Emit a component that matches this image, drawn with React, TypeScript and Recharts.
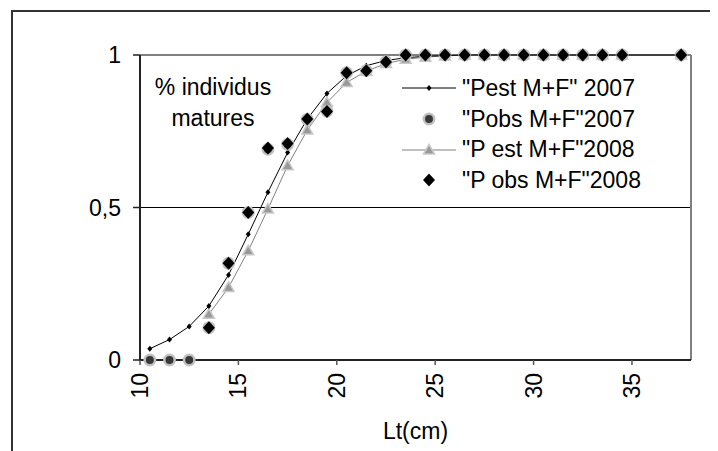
import { LineChart, Line, XAxis, YAxis, CartesianGrid, ReferenceLine } from 'recharts'

const lengths = [
  10.5, 11.5, 12.5, 13.5, 14.5, 15.5, 16.5, 17.5, 18.5, 19.5, 20.5, 21.5, 22.5,
  23.5, 24.5, 25.5, 26.5, 27.5, 28.5, 29.5, 30.5, 31.5, 32.5, 33.5, 34.5, 37.5,
]
const pest2007 = [
  0.037, 0.067, 0.11, 0.177, 0.279, 0.412, 0.55, 0.68, 0.79, 0.874, 0.932, 0.965, 0.982,
  0.991, 0.996, 0.998, 1, 1, 1, 1, 1, 1, 1, 1, 1, 1,
]
const pobs2007 = [
  0, 0, 0, 0.106, 0.317, 0.484, 0.691, 0.707, 0.789, 0.816, 0.942, 0.949, 0.978,
  1, 1, 1, 1, 1, 1, 1, 1, 1, 1, 1, 1, 1,
]
const pest2008 = [
  null, null, null, 0.15, 0.238, 0.358, 0.495, 0.637, 0.754, 0.844, 0.91, 0.947, 0.972,
  0.986, 0.993, 0.997, 1, 1, 1, 1, 1, 1, 1, 1, 1, 1,
]
const pobs2008 = [
  null, null, null, 0.106, 0.317, 0.484, 0.695, 0.71, 0.79, 0.815, 0.942, 0.948, 0.977,
  1, 1, 1, 1, 1, 1, 1, 1, 1, 1, 1, 1, 1,
]
const xTicks = [10, 15, 20, 25, 30, 35]
const yTicks = [0, 0.5, 1]
const legendNames = ['"Pest M+F" 2007', '"Pobs M+F"2007', '"P est M+F"2008', '"P obs M+F"2008']

const data = lengths.map((lt, i) => ({
  lt,
  pest2007: pest2007[i],
  pobs2007: pobs2007[i],
  pest2008: pest2008[i],
  pobs2008: pobs2008[i],
}))

const FONT = '"Liberation Sans", Arial, sans-serif'

const SmallDot = ({ cx, cy }: any) => (
  <path d={`M${cx},${cy - 3}L${cx + 2.5},${cy}L${cx},${cy + 3}L${cx - 2.5},${cy}Z`} fill='#000' />
)
const Circle = ({ cx, cy }: any) => (
  <circle cx={cx} cy={cy} r={5.2} fill='#383838' stroke='#c0c0c0' strokeWidth={2.5} />
)
const Triangle = ({ cx, cy }: any) => (
  <path
    d={`M${cx},${cy - 5.5}L${cx + 5.5},${cy + 4}L${cx - 5.5},${cy + 4}Z`}
    fill='#999'
    stroke='#c8c8c8'
    strokeWidth={1.5}
  />
)
const Diamond = ({ cx, cy }: any) => (
  <path d={`M${cx},${cy - 6.5}L${cx + 6},${cy}L${cx},${cy + 6.5}L${cx - 6},${cy}Z`} fill='#000' />
)

const dotOf = (Shape: any) => (props: any) => {
  if (props.cy == null || props.value == null) return <g key={props.key} />
  return <Shape key={props.key} cx={props.cx} cy={props.cy} />
}

const XTick = ({ x, y, payload }: any) => (
  <text
    transform={`translate(${x},${y + 6}) rotate(-90)`}
    textAnchor='end'
    dominantBaseline='central'
    fontSize={23}
    fontFamily={FONT}
    fill='#000'
  >
    {payload.value}
  </text>
)

const LegendBox = () => {
  const symbols = [
    <g>
      <line x1={0} y1={10} x2={54} y2={10} stroke='#000' strokeWidth={1} />
      <SmallDot cx={27} cy={10} />
    </g>,
    <Circle cx={27} cy={10} />,
    <g>
      <line x1={0} y1={10} x2={54} y2={10} stroke='#808080' strokeWidth={1} />
      <Triangle cx={27} cy={10} />
    </g>,
    <Diamond cx={27} cy={10} />,
  ]
  return (
    <div
      style={{
        position: 'absolute',
        left: 394,
        top: 65,
        fontFamily: FONT,
        fontSize: 23,
        color: '#000',
      }}
    >
      {legendNames.map((name, i) => (
        <div key={name} style={{ display: 'flex', alignItems: 'center', height: 30.7 }}>
          <svg width={60} height={20} style={{ flex: 'none' }}>
            {symbols[i]}
          </svg>
          <span style={{ whiteSpace: 'nowrap' }}>{name}</span>
        </div>
      ))}
    </div>
  )
}

const App = () => {
  return (
    <div style={{ position: 'relative', width: 710, height: 443, overflow: 'hidden', background: '#fff' }}>
      <div
        style={{
          position: 'absolute',
          left: 3,
          top: 2,
          width: 760,
          height: 480,
          border: '2px solid #333',
        }}
      />
      <LineChart
        width={710}
        height={443}
        data={data}
        margin={{ top: 47, right: 27, left: 0, bottom: 0 }}
        style={{ position: 'absolute', left: 0, top: 0 }}
      >
        <CartesianGrid vertical={false} stroke='#000' strokeWidth={1} />
        <XAxis
          dataKey='lt'
          type='number'
          domain={[10, 38]}
          ticks={xTicks}
          height={91}
          tick={<XTick />}
          tickSize={5}
          tickLine={{ stroke: '#555', strokeWidth: 1.5 }}
          axisLine={{ stroke: '#222', strokeWidth: 2 }}
          label={{
            value: 'Lt(cm)',
            position: 'insideBottom',
            offset: 12,
            fontSize: 23,
            fontFamily: FONT,
            fill: '#000',
          }}
        />
        <YAxis
          type='number'
          domain={[0, 1]}
          ticks={yTicks}
          width={132}
          tickSize={7}
          tickMargin={12}
          tickFormatter={(v: number) => String(v).replace('.', ',')}
          tick={{ fontSize: 23, fontFamily: FONT, fill: '#000' }}
          tickLine={{ stroke: '#222', strokeWidth: 1.5 }}
          axisLine={{ stroke: '#222', strokeWidth: 2 }}
        />
        <ReferenceLine y={1} stroke='#808080' strokeWidth={2} />
        <ReferenceLine x={38} stroke='#808080' strokeWidth={2} />
        <Line
          dataKey='pest2008'
          stroke='#808080'
          strokeWidth={1}
          dot={dotOf(Triangle)}
          isAnimationActive={false}
        />
        <Line
          dataKey='pest2007'
          stroke='#000'
          strokeWidth={1}
          dot={dotOf(SmallDot)}
          isAnimationActive={false}
        />
        <Line
          dataKey='pobs2007'
          stroke='none'
          dot={dotOf(Circle)}
          activeDot={false}
          isAnimationActive={false}
        />
        <Line
          dataKey='pobs2008'
          stroke='none'
          dot={dotOf(Diamond)}
          activeDot={false}
          isAnimationActive={false}
        />
      </LineChart>
      <LegendBox />
      <div
        style={{
          position: 'absolute',
          left: 105,
          top: 64,
          width: 200,
          textAlign: 'center',
          fontFamily: FONT,
          fontSize: 23,
          lineHeight: '31px',
          color: '#000',
        }}
      >
        % individus
        <br />
        matures
      </div>
    </div>
  )
}

export default App
